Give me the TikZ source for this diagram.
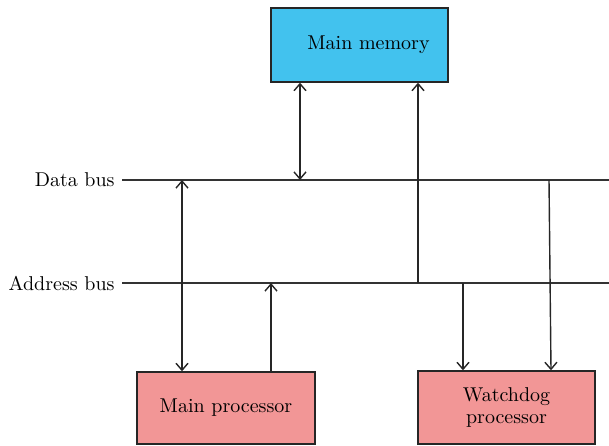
\documentclass[tikz,border=0pt]{standalone}
\usetikzlibrary{arrows.meta}
\definecolor{memblue}{RGB}{66,194,238}
\definecolor{procpink}{RGB}{242,150,150}
\begin{document}
\begin{tikzpicture}[x=0.5pt,y=-0.5pt,
  box/.style={draw=black!85,line width=0.7pt,inner sep=0pt,align=center,font=\fontsize{10}{12}\selectfont},
  bus/.style={line width=0.7pt,draw=black!80},
  conn/.style={line width=0.7pt,draw=black!85,arrows={-Straight Barb[length=3.5pt,width=6pt]}},
  dconn/.style={conn,arrows={Straight Barb[length=3.5pt,width=6pt]-Straight Barb[length=3.5pt,width=6pt]}},
  lbl/.style={font=\fontsize{10}{12}\selectfont,anchor=east,inner sep=0pt}]
\useasboundingbox (0,0) rectangle (609,445);
\clip (0,0) rectangle (609,445);
% boxes
\node[box,fill=memblue,minimum width=88.5pt,minimum height=37pt] (mem) at (359.5,45) {\hspace{9pt}Main memory};
\node[box,fill=procpink,minimum width=89pt,minimum height=36pt] (mp) at (226,408) {Main processor};
\node[box,fill=procpink,minimum width=88.5pt,minimum height=36.5pt] (wd) at (506.5,407.5) {Watchdog\\[-1pt]processor};
% buses
\coordinate (dbL) at (122,180);
\coordinate (dbR) at (609,180);
\coordinate (abL) at (122,283);
\coordinate (abR) at (609,283);
\draw[bus] (dbL) -- (dbR);
\draw[bus] (abL) -- (abR);
\node[lbl] (dbl) at (115,180) {Data bus};
\node[lbl] (abl) at (115,283) {Address bus};
% taps
\coordinate (d1) at (300,180);
\coordinate (a1) at (418,283);
\coordinate (d2) at (182,180);
\coordinate (a2) at (271,283);
\coordinate (a3) at (463,283);
\coordinate (d3) at (549,180);
% connectors
\draw[dconn] (mem.south -| d1) -- (d1);
\draw[conn] (a1) -- (mem.south -| a1);
\draw[dconn] (d2) -- (mp.north -| d2);
\draw[conn] (mp.north -| a2) -- (a2);
\draw[conn] (a3) -- (wd.north -| a3);
\draw[conn] (d3) -- ([xshift=1pt]wd.north -| d3);
\end{tikzpicture}
\end{document}
